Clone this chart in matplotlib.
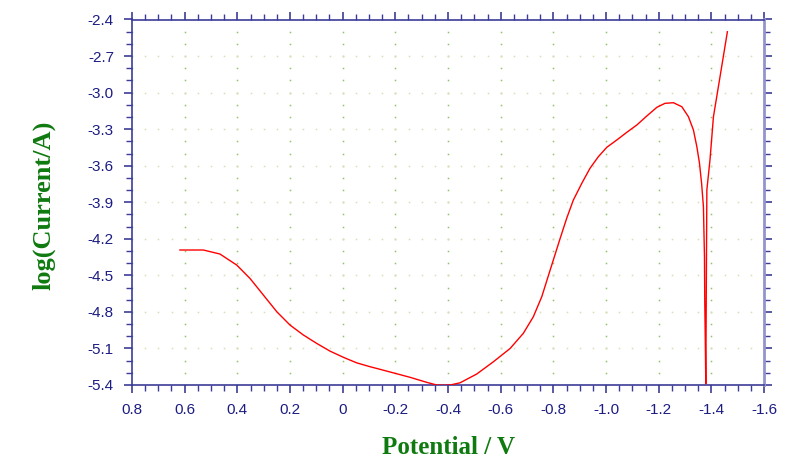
import numpy as np
import matplotlib
matplotlib.use('Agg')
import matplotlib.pyplot as plt
from matplotlib.ticker import MultipleLocator, FuncFormatter

# potential (V) and log(current/A)
potential = [0.618, 0.57, 0.529, 0.466, 0.402, 0.352, 0.301, 0.25, 0.2, 0.149, 0.099,
             0.048, -0.003, -0.053, -0.104, -0.129, -0.192, -0.256, -0.319, -0.357,
             -0.38, -0.408, -0.446, -0.509, -0.572, -0.636, -0.686, -0.724, -0.756,
             -0.788, -0.826, -0.851, -0.876, -0.908, -0.939, -0.971, -1.003, -1.041,
             -1.079, -1.117, -1.155, -1.193, -1.224, -1.256, -1.288, -1.313, -1.332,
             -1.345, -1.355, -1.363, -1.37, -1.372, -1.374, -1.375, -1.377,
             -1.379, -1.381, -1.383, -1.395, -1.408, -1.433, -1.461]
log_current = [-4.292, -4.292, -4.292, -4.325, -4.416, -4.525, -4.662, -4.799, -4.908, -4.99, -5.058,
               -5.122, -5.173, -5.218, -5.25, -5.264, -5.30, -5.337, -5.378, -5.40,
               -5.402, -5.40, -5.382, -5.31, -5.21, -5.10, -4.976, -4.84, -4.676,
               -4.456, -4.196, -4.03, -3.882, -3.745, -3.622, -3.526, -3.449, -3.389,
               -3.326, -3.266, -3.192, -3.121, -3.088, -3.083, -3.116, -3.198, -3.307,
               -3.444, -3.58, -3.745, -3.937, -4.15, -4.35, -4.7, -5.03,
               -5.39, -4.566, -3.80, -3.55, -3.198, -2.87, -2.50]

fig = plt.figure(figsize=(8, 4.75), dpi=100)
ax = fig.add_axes([132/800, 90/475, 632/800, 365.5/475])

navy = '#3c3c98'
green = '#0f7a0f'

# dotted grid
for gx in np.arange(0.8, -1.61, -0.2):
    gy = np.arange(-2.4, -5.41, -0.1)
    ax.plot(np.full(len(gy), gx), gy, 's', ms=1.1, mew=0, color='#96c068', zorder=1)
for gy in np.arange(-2.7, -5.31, -0.3):
    gx = np.arange(0.75, -1.56, -0.05)
    ax.plot(gx, np.full(len(gx), gy), 's', ms=1.1, mew=0, color='#d8dfb8', zorder=1)

ax.plot(potential, log_current, color='red', lw=1.0, zorder=3)

ax.set_xlim(0.8, -1.6)
ax.set_ylim(-5.4, -2.4)
ax.xaxis.set_major_locator(MultipleLocator(0.2))
ax.xaxis.set_minor_locator(MultipleLocator(0.05))
ax.yaxis.set_major_locator(MultipleLocator(0.3))
ax.yaxis.set_minor_locator(MultipleLocator(0.1))
ax.xaxis.set_major_formatter(FuncFormatter(lambda v, p: '0' if abs(v) < 1e-9 else '%.1f' % v))
ax.yaxis.set_major_formatter(FuncFormatter(lambda v, p: '%.1f' % v))

ax.tick_params(which='both', direction='out', color=navy, top=True, right=True,
               labelcolor='#1c1c82', labelsize=11, labelfontfamily='Liberation Sans')
ax.tick_params(which='major', length=6, width=1.2, pad=7)
ax.tick_params(which='minor', length=4, width=1.0)
for s in ['left', 'bottom', 'top']:
    ax.spines[s].set_color(navy)
    ax.spines[s].set_linewidth(1.2)
ax.spines['right'].set_color('#9494cc')
ax.spines['right'].set_linewidth(2)

fig.text(448/800, 1 - 448/475, 'Potential / V', color=green, fontsize=18,
         fontweight='bold', family='Liberation Serif', ha='center', va='center')
fig.text(44/800, 1 - 205/475, 'log(Current/A)', color=green, fontsize=19,
         fontweight='bold', family='Liberation Serif', ha='center', va='center', rotation=90)

fig.savefig('out.png', dpi=100)
